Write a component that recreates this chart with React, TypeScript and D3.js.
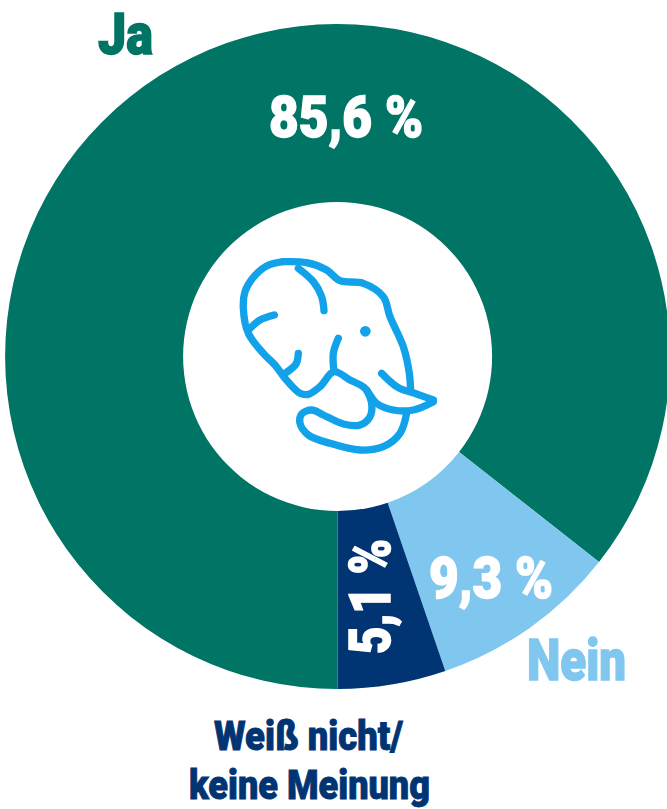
import React from "react";
import * as d3 from "d3";

const categories = ["Ja", "Nein", "Weiß nicht/ keine Meinung"];
const values = [85.6, 9.15, 5.25];
const valueLabels = ["85,6 %", "9,3 %", "5,1 %"];
const colors = ["#007465", "#80c7ef", "#003473"];

const W = 667, H = 809, CX = 337.6, CY = 356.5, R = 332.5, R0 = 154.5;
const FONT = "Roboto, 'Liberation Sans', sans-serif";

type P = [number, number];
const iconLines: P[][] = [
  [[190,65],[140,78],[100,112],[75,155],[70,205],[85,280],[130,340],[165,375],[195,415],[240,460],[265,463],[300,440],[342,395],[390,420],[432,442],[470,490],[520,510],[580,510],[640,485]],
  [[190,65],[260,68],[320,90],[360,122],[430,130],[490,170],[510,230],[550,320],[568,400],[572,455]],
  [[485,400],[535,443],[590,462],[640,480]],
  [[235,85],[280,125],[305,170],[312,212]],
  [[90,265],[120,240],[163,225]],
  [[235,340],[228,372],[195,400]],
  [[355,295],[340,340],[342,395]],
  [[440,450],[455,490],[450,530],[420,555],[370,552],[310,525],[275,510],[245,522],[240,550],[265,585],[330,610],[420,630],[490,620],[540,580],[560,520]],
];

export default function App() {
  const pie = d3.pie<number>().sort(null).startAngle(Math.PI).endAngle(3 * Math.PI);
  const arcs = pie(values);
  const arc = d3.arc<d3.PieArcDatum<number>>().innerRadius(R0).outerRadius(R);
  const line = d3.line<P>().curve(d3.curveCatmullRom.alpha(0.5));
  const txt = (x: number, y: number, s: string, fill: string, size: number, len: number, extra: any = {}) => (
    <text x={x} y={y} fill={fill} fontSize={size} fontWeight={900} fontFamily={FONT} stroke={fill} strokeWidth={size > 50 ? 1.5 : 0.9}
      textLength={len} lengthAdjust="spacingAndGlyphs" {...extra}>{s}</text>
  );
  return (
    <svg width={W} height={H} style={{ position: "absolute", left: 0, top: 0 }}>
      {arcs.map((a, i) => (
        <path key={categories[i]} d={arc(a) as string} fill={colors[i]} transform={`translate(${CX},${CY})`} />
      ))}
      <g transform="translate(220,240) scale(0.3333)" fill="none" stroke="#12a2ea" strokeWidth={22} strokeLinecap="round" strokeLinejoin="round">
        {iconLines.map((l, i) => <path key={i} d={line(l) as string} />)}
        <circle cx={436} cy={274} r={16} fill="#12a2ea" stroke="none" />
      </g>
      {txt(269, 137, valueLabels[0], "#fff", 58, 154)}
      {txt(429, 598, valueLabels[1], "#fff", 58, 124)}
      {txt(0, 0, valueLabels[2], "#fff", 58, 115, { transform: "translate(390,654) rotate(-90)" })}
      {txt(98, 54, "Ja", colors[0], 58, 55)}
      {txt(527, 680, "Nein", colors[1], 58, 99)}
      {txt(214, 750, "Weiß nicht/", colors[2], 41, 189)}
      {txt(189, 799, "keine Meinung", colors[2], 41, 241)}
    </svg>
  );
}
